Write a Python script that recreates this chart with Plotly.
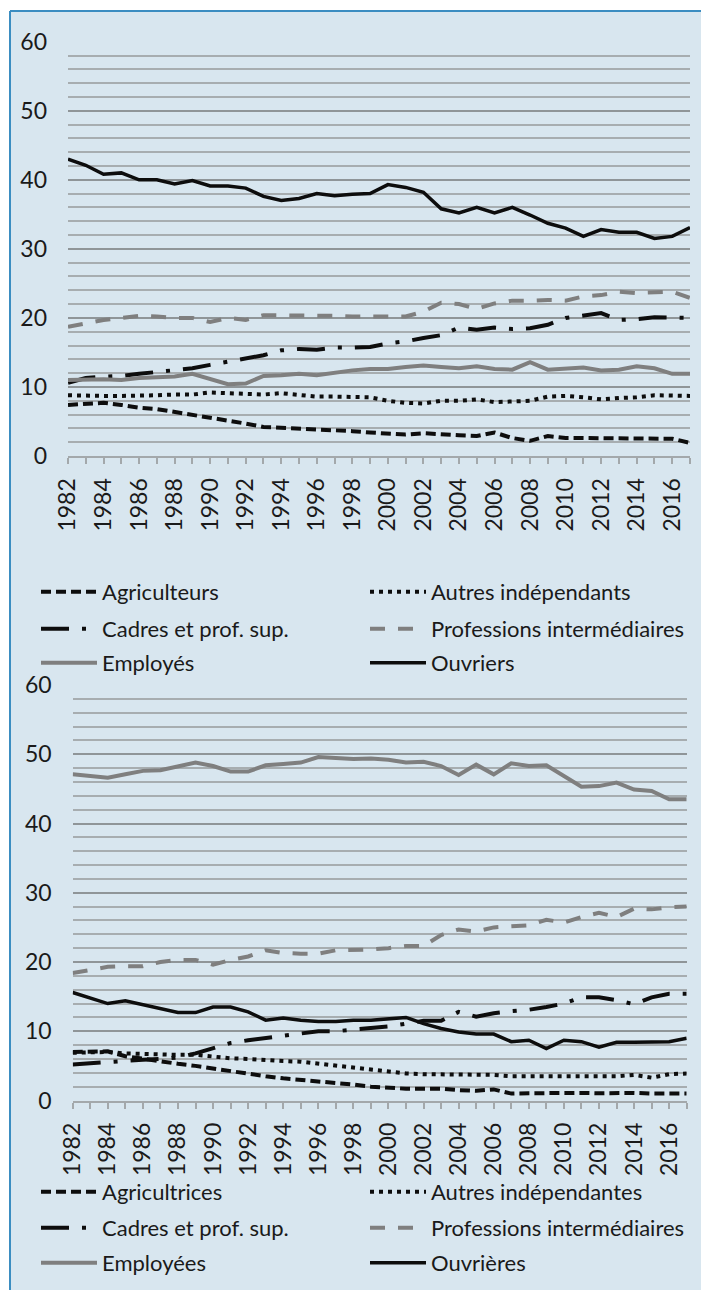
import plotly.graph_objects as go

# -----------------------------------
# |             DATA                |
# -----------------------------------
years = [1982, 1983, 1984, 1985, 1986, 1987, 1988, 1989, 1990, 1991,
         1992, 1993, 1994, 1995, 1996, 1997, 1998, 1999, 2000, 2001,
         2002, 2003, 2004, 2005, 2006, 2007, 2008, 2009, 2010, 2011,
         2012, 2013, 2014, 2015, 2016, 2017]
year_ticks = [1982, 1984, 1986, 1988, 1990, 1992, 1994, 1996, 1998, 2000,
              2002, 2004, 2006, 2008, 2010, 2012, 2014, 2016]

# hommes
agri_h = [7.4, 7.5, 7.7, 7.4, 7.0, 6.8, 6.4, 5.9, 5.5, 5.1, 4.7, 4.2, 4.1, 3.9, 3.8, 3.7, 3.6, 3.4,
          3.3, 3.1, 3.3, 3.1, 3.0, 2.9, 3.4, 2.6, 2.2, 2.9, 2.6, 2.6, 2.6, 2.6, 2.5, 2.5, 2.5, 1.9]
autres_h = [8.8, 8.7, 8.7, 8.7, 8.7, 8.8, 8.9, 8.9, 9.2, 9.1, 9.1, 8.9, 9.1, 8.8, 8.6, 8.6, 8.6, 8.5,
            8.0, 7.7, 7.6, 8.0, 8.0, 8.2, 7.8, 7.9, 8.0, 8.6, 8.7, 8.5, 8.2, 8.4, 8.5, 8.8, 8.8, 8.7]
cadres_h = [10.6, 11.3, 11.5, 11.6, 11.9, 12.2, 12.5, 12.7, 13.2, 13.7, 14.2, 14.6, 15.3, 15.5, 15.4,
            15.7, 15.7, 15.8, 16.3, 16.6, 17.1, 17.5, 18.6, 18.3, 18.6, 18.4, 18.5, 19.0, 20.0, 20.4,
            20.7, 19.7, 19.8, 20.1, 20.0, 20.0]
prof_h = [18.7, 19.2, 19.7, 20.0, 20.3, 20.2, 20.0, 20.0, 19.4, 20.0, 19.7, 20.4, 20.4, 20.4, 20.3,
          20.3, 20.2, 20.2, 20.2, 20.2, 20.9, 22.2, 22.0, 21.3, 22.1, 22.5, 22.5, 22.6, 22.5, 23.1,
          23.3, 23.8, 23.6, 23.7, 23.8, 22.9]
employes_h = [11.0, 11.1, 11.1, 11.0, 11.3, 11.4, 11.5, 11.9, 11.1, 10.4, 10.5, 11.6, 11.7, 11.9,
              11.7, 12.1, 12.4, 12.6, 12.6, 12.9, 13.1, 12.9, 12.7, 13.0, 12.6, 12.5, 13.6, 12.5,
              12.7, 12.8, 12.4, 12.5, 13.0, 12.7, 11.9, 11.9]
ouvriers_h = [43.0, 42.1, 40.8, 41.0, 40.0, 40.0, 39.4, 39.9, 39.1, 39.1, 38.8, 37.6, 37.0, 37.3,
              38.0, 37.7, 37.9, 38.0, 39.3, 38.9, 38.2, 35.8, 35.2, 36.0, 35.2, 36.0, 34.9, 33.7,
              33.0, 31.8, 32.8, 32.4, 32.4, 31.5, 31.8, 33.1]

# femmes
agri_f = [7.0, 7.0, 7.1, 6.4, 6.0, 5.6, 5.3, 5.0, 4.6, 4.2, 3.8, 3.5, 3.2, 3.0, 2.8, 2.6, 2.3, 2.0,
          1.8, 1.7, 1.7, 1.7, 1.5, 1.4, 1.6, 1.0, 1.05, 1.1, 1.1, 1.1, 1.05, 1.1, 1.1, 1.0, 1.0, 1.0]
autres_f = [6.9, 7.0, 7.0, 6.8, 6.7, 6.7, 6.6, 6.6, 6.3, 6.1, 6.0, 5.8, 5.7, 5.6, 5.3, 5.1, 4.8, 4.4,
            4.1, 3.9, 3.8, 3.8, 3.7, 3.7, 3.7, 3.5, 3.5, 3.5, 3.5, 3.5, 3.5, 3.5, 3.7, 3.3, 3.8, 3.9]
cadres_f = [5.2, 5.4, 5.5, 5.7, 5.9, 6.0, 6.2, 6.8, 7.6, 8.3, 8.7, 9.0, 9.4, 9.7, 10.0, 10.0, 10.2,
            10.4, 10.7, 11.1, 11.5, 11.5, 12.8, 12.1, 12.6, 12.9, 13.1, 13.5, 14.0, 14.9, 14.9, 14.5,
            13.9, 14.9, 15.4, 15.4]
prof_f = [18.4, 18.8, 19.3, 19.4, 19.4, 20.0, 20.3, 20.3, 19.6, 20.3, 20.8, 21.7, 21.3, 21.2, 21.2,
          21.7, 21.7, 21.8, 22.0, 22.3, 22.3, 23.9, 24.7, 24.4, 25.0, 25.1, 25.3, 26.1, 25.7, 26.5,
          27.1, 26.5, 27.7, 27.6, 27.9, 28.0]
employees_f = [47.1, 46.9, 46.6, 47.1, 47.6, 47.7, 48.2, 48.8, 48.3, 47.5, 47.5, 48.4, 48.6, 48.8,
               49.6, 49.4, 49.3, 49.4, 49.2, 48.8, 48.9, 48.3, 47.0, 48.5, 47.1, 48.7, 48.3, 48.4,
               46.8, 45.3, 45.4, 45.9, 44.9, 44.7, 43.5, 43.5]
ouvrieres_f = [15.6, 14.8, 14.0, 14.4, 13.8, 13.3, 12.7, 12.7, 13.5, 13.5, 12.8, 11.6, 11.9, 11.6,
               11.4, 11.4, 11.6, 11.6, 11.8, 12.0, 11.1, 10.4, 9.9, 9.6, 9.6, 8.5, 8.7, 7.5, 8.7,
               8.5, 7.7, 8.4, 8.4, 8.4, 8.5, 9.0]

names_h = ["Agriculteurs", "Autres indépendants", "Cadres et prof. sup.",
           "Professions intermédiaires", "Employés", "Ouvriers"]
names_f = ["Agricultrices", "Autres indépendantes", "Cadres et prof. sup.",
           "Professions intermédiaires", "Employées", "Ouvrières"]

# -----------------------------------
# |             STYLE               |
# -----------------------------------
W, H = 701, 1290
BG = "#d8e6ef"
BORDER = "#3b8dc1"
FONT = "Lato"
TXT = "#1a1a1a"
BLACK = "#0d0d0d"
GREY = "#7f7f7f"

styles = [
    dict(color=BLACK, width=4, dash="10px,5px"),
    dict(color=BLACK, width=4, dash="4px,5px"),
    dict(color=BLACK, width=4, dash="28px,13px,4px,13px"),
    dict(color=GREY, width=4, dash="15px,13px"),
    dict(color=GREY, width=4, dash="solid"),
    dict(color=BLACK, width=3.5, dash="solid"),
]

fig = go.Figure()

def add_chart(series, names, xa, ya, legends):
    for i, (vals, name) in enumerate(zip(series, names)):
        fig.add_trace(go.Scatter(
            x=years, y=vals, name=name, mode="lines",
            line=styles[i], xaxis=xa, yaxis=ya,
            legend=legends[i // 2],
        ))

add_chart([agri_h, autres_h, cadres_h, prof_h, employes_h, ouvriers_h],
          names_h, "x", "y", ["legend", "legend2", "legend3"])
add_chart([agri_f, autres_f, cadres_f, prof_f, employees_f, ouvrieres_f],
          names_f, "x2", "y2", ["legend4", "legend5", "legend6"])


def xaxis_style(x0, x1, anchor):
    return dict(
        domain=[x0 / W, x1 / W], anchor=anchor, range=[1982, 2017],
        tickmode="array", tickvals=year_ticks, tickangle=-90,
        ticks="outside", ticklen=6, tickcolor="#a3a8ab", tickwidth=1.5,
        minor=dict(dtick=1, tick0=1982, ticks="outside", ticklen=6,
                   tickcolor="#a3a8ab", tickwidth=1.5, showgrid=False),
        showline=True, linecolor="#a3a8ab", linewidth=2,
        showgrid=False, zeroline=False, automargin=False,
        tickfont=dict(family=FONT, size=23, color=TXT),
        ticklabelstandoff=5,
    )


def yaxis_style(top, bottom, anchor):
    return dict(
        domain=[(H - bottom) / H, (H - top) / H], anchor=anchor, range=[0, 60],
        tickmode="linear", tick0=0, dtick=10, ticks="",
        showgrid=True, gridcolor="#8f9598", gridwidth=2,
        minor=dict(dtick=2, showgrid=True, gridcolor="#a7adb0", gridwidth=1.5),
        zeroline=False, showline=False, automargin=False,
        tickfont=dict(family=FONT, size=23, color=TXT),
        ticklabelstandoff=20,
    )


def legend_row(x, yc):
    return dict(
        orientation="h", x=x / W, y=1 - yc / H, xanchor="left", yanchor="middle",
        xref="paper", yref="paper",
        entrywidth=258, entrywidthmode="pixels", itemwidth=56,
        bgcolor="rgba(0,0,0,0)", font=dict(family=FONT, size=22, color=TXT),
        traceorder="normal",
    )


fig.update_layout(
    width=W, height=H,
    margin=dict(l=0, r=0, t=0, b=0),
    paper_bgcolor=BG, plot_bgcolor="rgba(0,0,0,0)",
    showlegend=True,
    xaxis=xaxis_style(68, 690, "y"),
    yaxis=yaxis_style(41.7, 456, "x"),
    xaxis2=xaxis_style(72.7, 686.7, "y2"),
    yaxis2=yaxis_style(685, 1100.5, "x2"),
    legend=legend_row(36, 592),
    legend2=legend_row(36, 629),
    legend3=legend_row(36, 663),
    legend4=legend_row(36, 1192),
    legend5=legend_row(36, 1228),
    legend6=legend_row(36, 1263),
    shapes=[
        # white strips outside the blue frame
        dict(type="rect", xref="paper", yref="paper", x0=-0.1, x1=10 / W, y0=-0.1, y1=1.1,
             fillcolor="white", line=dict(width=0), layer="below"),
        dict(type="rect", xref="paper", yref="paper", x0=-0.1, x1=1.1, y0=1 - 11 / H, y1=1.1,
             fillcolor="white", line=dict(width=0), layer="below"),
        # frame: left and top edges
        dict(type="line", xref="paper", yref="paper", x0=10 / W, x1=10 / W, y0=-0.1, y1=1 - 11 / H,
             line=dict(color=BORDER, width=2), layer="below"),
        dict(type="line", xref="paper", yref="paper", x0=10 / W, x1=1.1, y0=1 - 11 / H, y1=1 - 11 / H,
             line=dict(color=BORDER, width=2), layer="below"),
    ],
)

fig.write_html("out.html", config={"displayModeBar": False},
               post_script="document.body.style.margin='0';")
